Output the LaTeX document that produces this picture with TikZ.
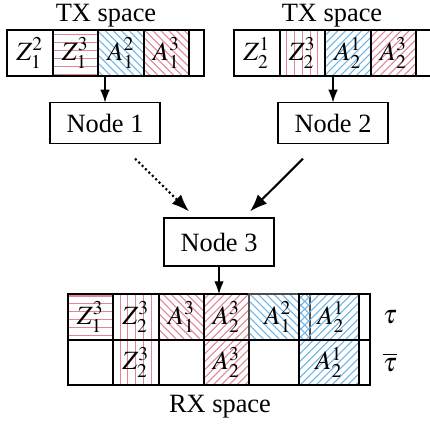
\documentclass[tikz,border=0pt]{standalone}
\usepackage{mathptmx}
\usepackage[no-math]{fontspec}
\setmainfont{Liberation Serif}
\usepackage{tikz}
\usetikzlibrary{arrows.meta,positioning,patterns,calc}
\definecolor{hatchred}{RGB}{225,135,148}
\definecolor{hatchblue}{RGB}{110,182,230}

\tikzset{
    hzr/.style={draw, pattern=horizontal lines, pattern color=hatchred},
    vtr/.style={draw, pattern=vertical lines, pattern color=hatchred},
    nwr/.style={draw, pattern=north west lines, pattern color=hatchred},
    ner/.style={draw, pattern=north east lines, pattern color=hatchred},
    nwb/.style={draw, pattern=north west lines, pattern color=hatchblue},
    neb/.style={draw, pattern=north east lines, pattern color=hatchblue},
    nodebox/.style={draw, rectangle, inner sep=0pt, minimum width=41.7pt, minimum height=15.2pt},
}

\begin{document}
\begin{tikzpicture}[x=0.379pt,y=-0.379pt,>={Latex}]
    \useasboundingbox (0,0) rectangle (430,424);

    % TX space of node 1
    \node[anchor=base] (txlab1) at (106,22) {TX space};
    \draw (7,30) rectangle (204,76);
    \draw (53,30) -- (53,76);
    \draw[hzr] (53,30) rectangle (98,76);
    \draw[nwb] (98,30) rectangle (144,76);
    \draw[nwr] (144,30) rectangle (189,76);
    \node (t1a) at (30,53) {$Z_1^2$};
    \node (t1b) at (75.5,53) {$Z_1^3$};
    \node (t1c) at (121,53) {$A_1^2$};
    \node (t1d) at (166.5,53) {$A_1^3$};

    % TX space of node 2
    \node[anchor=base] (txlab2) at (332,22) {TX space};
    \draw (234,30) rectangle (431,76);
    \draw[vtr] (280,30) rectangle (325,76);
    \draw[neb] (325,30) rectangle (371,76);
    \draw[ner] (371,30) rectangle (416,76);
    \node (t2a) at (257,53) {$Z_2^1$};
    \node (t2b) at (302.5,53) {$Z_2^3$};
    \node (t2c) at (348,53) {$A_2^1$};
    \node (t2d) at (393.5,53) {$A_2^3$};

    % Nodes
    \node[nodebox] (n1) at (105,123) {Node 1};
    \node[nodebox] (n2) at (333,123) {Node 2};
    \node[nodebox,minimum height=18.2pt] (n3) at (219,242) {Node 3};

    % Links
    \coordinate (tx1out) at (105,76);
    \coordinate (tx2out) at (333,76);
    \coordinate (rxin) at (219,294);
    \draw[->] (tx1out) -- (n1);
    \draw[->] (tx2out) -- (n2);
    \draw[->,thick,densely dotted] ($(n1.south)+(30,15)$) -- ($(n3.north)+(-30,-6)$);
    \draw[->,thick] ($(n2.south)+(-30,15)$) -- ($(n3.north)+(31,-6)$);
    \draw[->] (n3) -- (rxin);

    % RX space, first row
    \draw (68,294) rectangle (370,340);
    \draw[hzr] (68,294) rectangle (113,340);
    \draw[vtr] (113,294) rectangle (159,340);
    \draw[nwr] (159,294) rectangle (204,340);
    \draw[ner] (204,294) rectangle (249,340);
    \draw[nwb,draw=black!70] (249,294) rectangle (310,340);
    \draw[neb] (299,294) rectangle (359,340);
    \node (r1a) at (90.5,317) {$Z_1^3$};
    \node (r1b) at (136,317) {$Z_2^3$};
    \node (r1c) at (181.5,317) {$A_1^3$};
    \node (r1d) at (226.5,317) {$A_2^3$};
    \node (r1e) at (278,317) {$A_1^2$};
    \node (r1f) at (331,317) {$A_2^1$};
    \node (tau) at (390,317) {$\tau$};

    % RX space, second row
    \draw (68,340) rectangle (370,385);
    \draw[vtr] (113,340) rectangle (159,385);
    \draw[ner] (204,340) rectangle (249,385);
    \draw[neb] (299,340) rectangle (359,385);
    \node (r2b) at (136,362.5) {$Z_2^3$};
    \node (r2d) at (226.5,362.5) {$A_2^3$};
    \node (r2f) at (329,362.5) {$A_2^1$};
    \node (taubar) at (390,362.5) {$\overline{\tau}$};

    \node[anchor=base] (rxlab) at (220,413) {RX space};
\end{tikzpicture}
\end{document}
